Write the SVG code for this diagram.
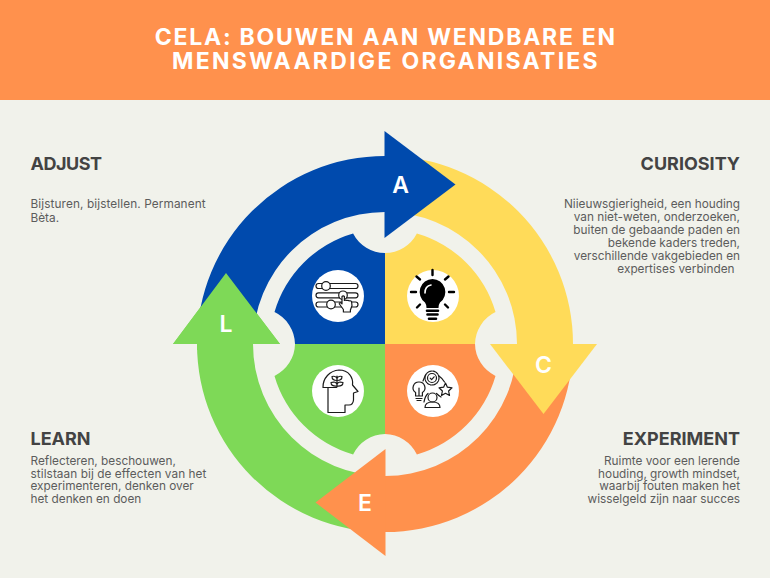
<svg xmlns="http://www.w3.org/2000/svg" width="770" height="578" viewBox="0 0 770 578">
<style>
.title{font-family:"Inter","Liberation Sans",sans-serif;font-weight:700;font-size:23px;fill:#fff;text-anchor:middle}
.h{font-family:"Inter","Liberation Sans",sans-serif;font-weight:700;font-size:18px;fill:#434343}
.b{font-family:"Inter","Liberation Sans",sans-serif;font-weight:400;font-size:11.8px;fill:#5c5c5c}
.r{text-anchor:end}
.l{font-family:"Inter","Liberation Sans",sans-serif;font-weight:600;font-size:23px;fill:#fff;text-anchor:middle}
.blue{fill:#004AAD}.yellow{fill:#FFDB59}.green{fill:#7ED957}.orange{fill:#FF914D}
.ic{fill:none;stroke:#1a1a1a;stroke-width:1.2;stroke-linecap:round;stroke-linejoin:round}
.icw{fill:#fff;stroke:#1a1a1a;stroke-width:1.2;stroke-linecap:round;stroke-linejoin:round}
.ray{stroke:#000;stroke-width:2.4;stroke-linecap:round;fill:none}
</style>
<rect width="770" height="578" fill="#F1F2EB"/>
<g id="header">
<rect width="770" height="100" fill="#FF914D"/>
<text class="title"><tspan x="385.800" y="45" letter-spacing="1.76">CELA: BOUWEN AAN WENDBARE EN</tspan><tspan x="386" y="69" letter-spacing="2.28">MENSWAARDIGE ORGANISATIES</tspan></text>
</g>
<g id="quadrants">
<path class="blue" d="M385 344V253A36 36 0 0 1 353.100 233.500A115 115 0 0 0 274.500 312.100A36 36 0 0 1 295 344Z"/>
<path class="yellow" d="M385 344V253A36 36 0 0 0 416.900 233.500A115 115 0 0 1 495.500 312.100A36 36 0 0 0 475 344Z"/>
<path class="green" d="M385 344V434A36 36 0 0 0 353.100 454.500A115 115 0 0 1 274.500 375.900A36 36 0 0 0 295 344Z"/>
<path class="orange" d="M385 344V434A36 36 0 0 1 416.900 454.500A115 115 0 0 0 495.500 375.900A36 36 0 0 1 475 344Z"/>
</g>
<g id="connectors">
<path id="arrow-experiment" class="orange" d="M573 344A188 188 0 0 1 385 532V476A132 132 0 0 0 517 344Z"/>
<path id="arrow-learn" class="green" d="M385 532A188 188 0 0 1 197 344H173L226 273L280 344H253A132 132 0 0 0 385 476Z"/>
<path id="arrow-experiment-tip" class="orange" d="M385.500 556L315.500 502.500L385.500 449Z"/>
<path id="arrow-adjust" class="blue" d="M197 344A188 188 0 0 1 385 156V212A132 132 0 0 0 253 344Z"/>
<path id="arrow-learn-tip" class="green" d="M173 344L226 273L280 344H253V350H197V344Z"/>
<path id="arrow-curiosity" class="yellow" d="M385 156A188 188 0 0 1 573 344H517A132 132 0 0 0 385 212Z"/>
<path id="arrow-adjust-tip" class="blue" d="M384.500 131L455.500 184.500L384.500 238Z"/>
<path id="arrow-curiosity-tip" class="yellow" d="M597 344L543.500 414L490 344Z"/>
</g>
<g id="node-a"><text class="l" x="400.500" y="193">A</text></g>
<g id="node-c"><text class="l" x="543.500" y="373">C</text></g>
<g id="node-e"><text class="l" x="365" y="511">E</text></g>
<g id="node-l"><text class="l" x="226" y="332">L</text></g>
<g id="icon-adjust">
<circle cx="338" cy="296" r="26" fill="#fff"/>
<rect class="ic" x="316" y="283.500" width="42" height="5" rx="2.500"/>
<rect class="ic" x="316" y="292.800" width="42" height="5" rx="2.500"/>
<rect class="ic" x="316" y="302" width="42" height="5" rx="2.500"/>
<circle class="icw" cx="326" cy="286" r="4.300"/>
<circle class="icw" cx="343" cy="295.300" r="4.300"/>
<circle class="icw" cx="331" cy="304.500" r="4.300"/>
<path class="icw" d="M342 296.500q1.200-1.200 2.400 0v4q1.600-.8 2.400 0q1.600-.5 2.400.4q1.600-.5 2.400.8l.4 4l-1.600 4.300v2h-7v-2.500l-4-5.500q-.5-1.600 1.400-1.200l1.200 1z"/>
</g>
<g id="icon-curiosity">
<circle cx="433" cy="296" r="26" fill="#fff"/>
<path d="M432.500 279A13 13 0 0 0 425 302.500Q426.500 304.500 426.500 308H438.500Q438.500 304.500 440 302.500A13 13 0 0 0 432.500 279Z" fill="#000"/>
<path d="M425 293Q425 286 431 285" fill="none" stroke="#fff" stroke-width="1.600" stroke-linecap="round"/>
<path d="M427 310.800H438M427.500 314.500H437.500M429 318.800H436" stroke="#000" stroke-width="2.600" stroke-linecap="round"/>
<path class="ray" d="M432.500 270V275M411 292H416M449 292H454M416.500 276.500L420 279.500M448.500 276.500L445 279.500M417 307.500L420 304.500M448 307.500L445 304.500"/>
</g>
<g id="icon-learn">
<circle cx="338" cy="391" r="26" fill="#fff"/>
<path class="ic" d="M323 387.500H336.500M323 387.500A17 17 0 0 1 339 370C349 370 353.500 378 352.500 385L358 391.500L353.500 393V400Q353 405 349 405H345V412.500H328V388"/>
<path class="ic" d="M337 387V376M337 386Q331 386.500 331 382.500Q336 381 337 384.500Q338 381 343 382.500Q343 386.500 337 386ZM337 380.500Q332 380.500 332 376.500Q336 375.500 337 378.500Q338 375.500 342 376.500Q342 380.500 337 380.500Z"/>
</g>
<g id="icon-experiment">
<circle cx="433" cy="391" r="26" fill="#fff"/>
<circle class="ic" cx="432" cy="378" r="4.500"/>
<path class="ic" d="M430.200 378.200l1.400 1.400l2.500-2.800"/>
<circle class="ic" cx="432" cy="378" r="7" stroke-dasharray="2.400 1"/>
<path class="ic" d="M419 382A5.800 5.800 0 0 0 415.600 392.600V396H422.400V392.600A5.800 5.800 0 0 0 419 382ZM416 398.500H422M417 400.500H421M419 396V388"/>
<path class="ic" d="M445.500 383L447.400 387.200L452 387.800L448.600 391L449.500 395.500L445.500 393.300L441.500 395.500L442.400 391L439 387.800L443.600 387.200Z"/>
<path class="ic" d="M423 381Q425 376 425.500 375M439 376Q442 378 444.500 382M424 402Q425 396 428 393.500M436.500 393.500Q439 396 441 397"/>
<circle class="ic" cx="432.500" cy="397.500" r="4.500"/>
<path class="ic" d="M425 407.500Q425 402 432.500 402Q440 402 440 407.500Z"/>
</g>
<g id="text-adjust">
<text class="h" x="30.500" y="170" letter-spacing="-.5">ADJUST</text>
<text class="b"><tspan x="30.500" y="208" letter-spacing=".1">Bijsturen, bijstellen. Permanent</tspan><tspan x="30.500" y="221.500">Bèta.</tspan></text>
</g>
<g id="text-curiosity">
<text class="h r" x="740" y="170">CURIOSITY</text>
<text class="b r"><tspan x="740" y="208">Niieuwsgierigheid, een houding</tspan><tspan x="740" y="221">van niet-weten, onderzoeken,</tspan><tspan x="740" y="234">buiten de gebaande paden en</tspan><tspan x="740" y="247">bekende kaders treden,</tspan><tspan x="740" y="260">verschillende vakgebieden en</tspan><tspan x="734.500" y="273">expertises verbinden</tspan></text>
</g>
<g id="text-learn">
<text class="h" x="30.500" y="445">LEARN</text>
<text class="b"><tspan x="30.500" y="465">Reflecteren, beschouwen,</tspan><tspan x="30.500" y="477.500" letter-spacing=".07">stilstaan bij de effecten van het</tspan><tspan x="30.500" y="490">experimenteren, denken over</tspan><tspan x="30.500" y="503">het denken en doen</tspan></text>
</g>
<g id="text-experiment">
<text class="h r" x="740" y="445">EXPERIMENT</text>
<text class="b r"><tspan x="740" y="465">Ruimte voor een lerende</tspan><tspan x="740" y="477.500">houding, growth mindset,</tspan><tspan x="740" y="490">waarbij fouten maken het</tspan><tspan x="740" y="503">wisselgeld zijn naar succes</tspan></text>
</g>
</svg>
